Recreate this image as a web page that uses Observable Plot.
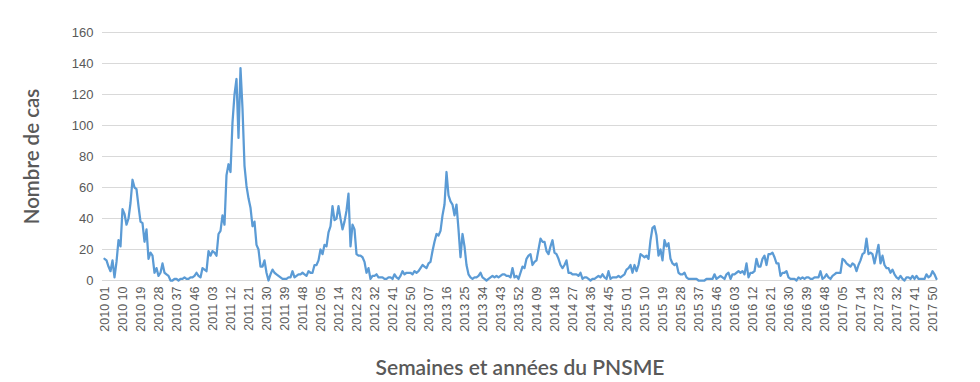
<!DOCTYPE html>
<html>
<head>
<meta charset="utf-8">
<script src="https://cdn.jsdelivr.net/npm/d3@7"></script>
<script src="https://cdn.jsdelivr.net/npm/@observablehq/plot@0.6"></script>
<style>
  html, body { margin: 0; padding: 0; background: #ffffff; }
  #chart { width: 980px; height: 382px; }
</style>
</head>
<body>
<div id="chart"></div>
<script>
// Years of the surveillance programme and number of weeks per year
const years = [2010, 2011, 2012, 2013, 2014, 2015, 2016, 2017];
const weeksPerYear = [52, 52, 52, 52, 53, 52, 52, 52];

// Weekly number of cases
const cases2010 = [14,13,9,6,13,2,12,26,22,46,43,36,40,50,65,60,59,48,38,37,25,33,14,18,16,5,8,3,5,11,5,4,3,0,0,1,1,0,1,1,2,1,1,2,2,3,5,3,2,8,7,6];
const cases2011 = [19,16,19,18,16,30,32,42,36,68,75,70,102,120,130,92,137,111,74,61,53,47,35,38,23,20,9,9,13,5,0,4,7,5,4,3,2,1,1,1,2,2,6,2,3,4,4,5,4,3,6,5];
const cases2012 = [5,10,10,13,20,17,23,22,31,35,48,39,40,48,40,33,38,45,56,22,36,33,17,16,16,15,12,5,8,1,3,3,4,2,2,2,1,1,2,2,1,4,2,1,3,6,4,5,5,5,4,6];
const cases2013 = [5,6,8,10,9,8,11,12,19,25,30,29,32,42,49,70,55,51,49,42,49,33,15,30,22,10,4,2,1,2,2,3,5,2,1,0,1,2,3,2,3,2,3,4,4,3,3,2,8,2,3,1];
const cases2014 = [5,9,8,14,16,17,10,12,13,20,27,25,25,19,17,22,26,18,17,14,10,8,10,13,5,5,4,4,4,3,5,1,2,2,1,0,1,1,2,3,2,4,2,1,6,1,2,2,2,3,2,3,4];
const cases2015 = [7,8,10,5,10,6,10,17,16,15,16,14,26,34,35,29,16,20,13,26,22,24,14,11,10,11,5,4,4,5,2,1,1,1,1,1,0,0,0,0,1,1,1,1,4,1,2,3,2,1,4,5];
const cases2016 = [1,4,4,5,6,5,6,4,11,2,5,5,6,14,9,9,14,16,10,17,17,18,15,11,11,3,5,5,6,2,1,1,1,0,2,1,2,1,2,2,1,1,2,2,2,6,1,2,4,2,1,3];
const cases2017 = [4,5,5,5,14,13,11,10,9,11,10,6,10,13,17,18,27,17,18,17,11,17,23,11,16,10,8,8,5,7,4,2,1,3,1,0,2,2,1,3,1,3,1,1,1,1,4,2,3,6,4,1];
const seriesByYear = [cases2010, cases2011, cases2012, cases2013, cases2014, cases2015, cases2016, cases2017];

// Tick labels shown on the x axis (every 9th week)
const tickLabels = ["2010 01","2010 10","2010 19","2010 28","2010 37","2010 46","2011 03","2011 12","2011 21","2011 30","2011 39","2011 48","2012 05","2012 14","2012 23","2012 32","2012 41","2012 50","2013 07","2013 16","2013 25","2013 34","2013 43","2013 52","2014 09","2014 18","2014 27","2014 36","2014 45","2015 01","2015 10","2015 19","2015 28","2015 37","2015 46","2016 03","2016 12","2016 21","2016 30","2016 39","2016 48","2017 05","2017 14","2017 23","2017 32","2017 41","2017 50"];
const yTicks = [0, 20, 40, 60, 80, 100, 120, 140, 160];

const xTitle = "Semaines et années du PNSME";
const yTitle = "Nombre de cas";

// Build the table of weeks
const weeks = [];
years.forEach((yr, k) => {
  for (let w = 1; w <= weeksPerYear[k]; w++) {
    weeks.push({ label: `${yr} ${String(w).padStart(2, "0")}`, value: seriesByYear[k][w - 1] });
  }
});

const textColor = "#595959";

const chart = Plot.plot({
  width: 980,
  height: 382,
  marginLeft: 102,
  marginRight: 43,
  marginTop: 32,
  marginBottom: 102,
  style: { fontFamily: "'Liberation Sans', Arial, sans-serif", fontSize: "13px", color: textColor, background: "#ffffff", overflow: "visible" },
  x: { type: "point", domain: weeks.map(d => d.label), padding: 0.5 },
  y: { domain: [0, 160] },
  marks: [
    Plot.gridY(yTicks, { stroke: "#d9d9d9", strokeOpacity: 1, strokeWidth: 1 }),
    Plot.axisY(yTicks, { tickSize: 0, tickPadding: 9, label: null, fontSize: 13, fill: textColor }),
    Plot.axisX(tickLabels, { tickSize: 0, tickRotate: -90, tickPadding: 6, label: null, fontSize: 12.5, fill: textColor }),
    Plot.lineY(weeks, { x: "label", y: "value", stroke: "#5b9bd5", strokeWidth: 2.25, strokeLinejoin: "round" }),
    Plot.text([xTitle], { text: d => d, frameAnchor: "bottom", dy: 88, lineAnchor: "middle", textAnchor: "middle", fontSize: 21, fontWeight: 600, fontFamily: "Lato, sans-serif", fill: textColor }),
    Plot.text([yTitle], { text: d => d, frameAnchor: "left", dx: -70, rotate: -90, lineAnchor: "middle", textAnchor: "middle", fontSize: 20.5, fontWeight: 600, fontFamily: "Lato, sans-serif", fill: textColor })
  ]
});
document.getElementById("chart").appendChild(chart);
</script>
</body>
</html>
